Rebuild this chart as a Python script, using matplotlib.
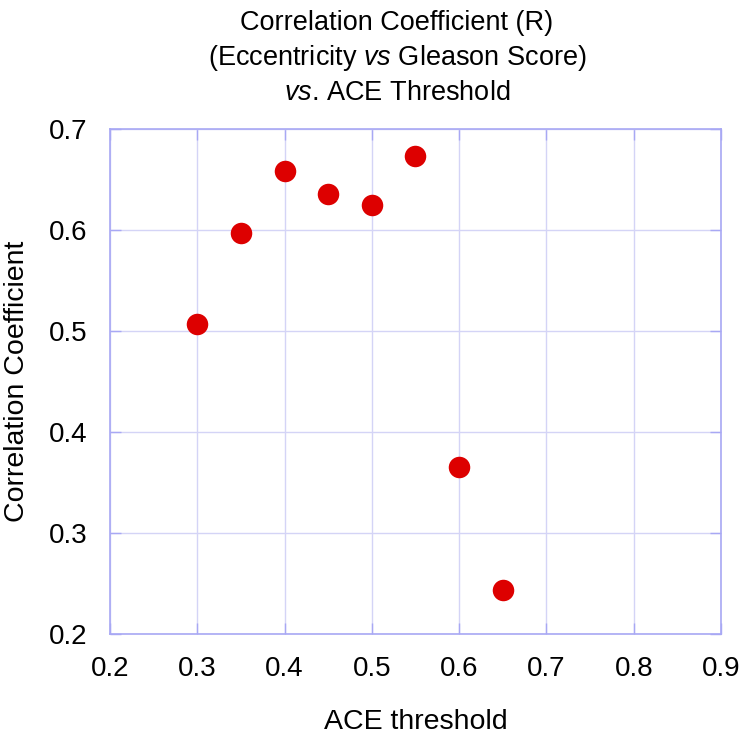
import matplotlib.pyplot as plt
import numpy as np

# Данные
thresholds = [0.30, 0.35, 0.40, 0.45, 0.50, 0.55, 0.60, 0.65]
corr = [0.507, 0.597, 0.658, 0.636, 0.625, 0.673, 0.365, 0.244]

plt.rcParams['font.family'] = ['Liberation Sans', 'DejaVu Sans']
plt.rcParams['mathtext.fontset'] = 'custom'
plt.rcParams['mathtext.rm'] = 'Liberation Sans'
plt.rcParams['mathtext.it'] = 'Liberation Sans:italic'

frame_col = '#a8a8f4'
grid_col = '#d4d4f6'

fig = plt.figure(figsize=(7.44, 7.36), dpi=100)
ax = fig.add_axes([110 / 744, 1 - 634 / 736, 611 / 744, 505 / 736])

ax.scatter(thresholds, corr, s=240, color='#dd0000', zorder=3, linewidths=0)

ax.set_xlim(0.2, 0.9)
ax.set_ylim(0.2, 0.7)
ax.set_xticks(np.arange(0.2, 0.91, 0.1))
ax.set_yticks(np.arange(0.2, 0.71, 0.1))
ax.set_xticklabels(['0.2', '0.3', '0.4', '0.5', '0.6', '0.7', '0.8', '0.9'])
ax.set_yticklabels(['0.2', '0.3', '0.4', '0.5', '0.6', '0.7'])
ax.grid(True, color=grid_col, linewidth=1)
ax.set_axisbelow(True)
for s in ax.spines.values():
    s.set_color(frame_col)
    s.set_linewidth(1.2)
ax.tick_params(direction='in', length=8, color=frame_col, width=1,
               top=True, right=True, labelsize=20)
ax.tick_params(axis='x', pad=16)
ax.tick_params(axis='y', pad=16)

ax.set_xlabel('ACE threshold', fontsize=20.5, labelpad=19)
ax.set_ylabel('Correlation Coefficient', fontsize=20.5, labelpad=14)

fig.text(397 / 744, 1 - 23 / 736, 'Correlation Coefficient (R)', ha='center', va='center', fontsize=19.5)
fig.text(397 / 744, 1 - 58 / 736, '(Eccentricity $\\it{vs}$ Gleason Score)', ha='center', va='center', fontsize=19.5)
fig.text(397 / 744, 1 - 93 / 736, '$\\it{vs}$. ACE Threshold', ha='center', va='center', fontsize=19.5)

fig.savefig('out.png', dpi=100)
